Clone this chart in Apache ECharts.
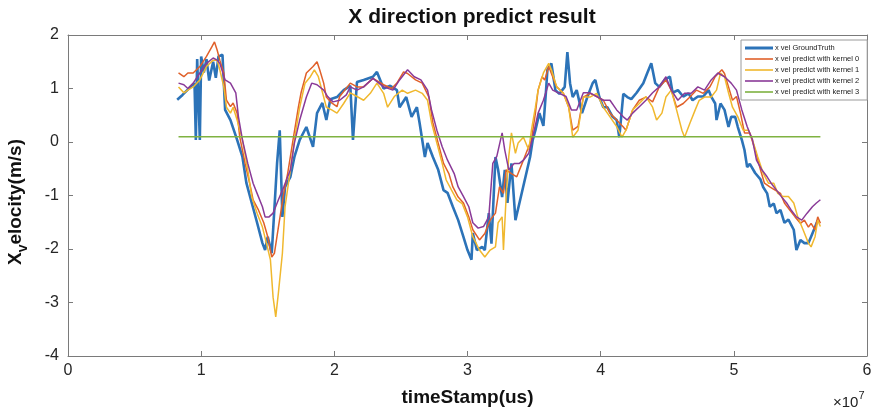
<!DOCTYPE html>
<html><head><meta charset="utf-8">
<script src="https://cdn.jsdelivr.net/npm/echarts@6/dist/echarts.min.js"></script>
<style>html,body{margin:0;padding:0;background:#fff}#c{width:879px;height:415px}</style>
</head><body><div id="c"></div>
<script>
// x in units of 1e7 us, y in m/s
const seriesNames = ['x vel GroundTruth','x vel predict with kernel 0','x vel predict with kernel 1','x vel predict with kernel 2','x vel predict with kernel 3'];
const xTicks = [0,1,2,3,4,5,6];
const yTicks = [-4,-3,-2,-1,0,1,2];

const groundTruth = [[0.82,0.79],[0.86,0.88],[0.92,1.03],[0.95,1.1],[0.96,0.04],[0.97,1.55],[0.99,0.04],[1.0,1.6],[1.02,1.3],[1.04,1.55],[1.06,1.15],[1.09,1.5],[1.11,1.2],[1.13,1.6],[1.16,1.63],[1.18,0.6],[1.22,0.41],[1.27,0.04],[1.31,-0.28],[1.34,-0.77],[1.38,-1.14],[1.42,-1.51],[1.46,-1.89],[1.48,-2.02],[1.5,-1.77],[1.53,-2.08],[1.57,-0.4],[1.59,0.22],[1.61,-1.4],[1.63,-0.84],[1.67,-0.65],[1.7,-0.28],[1.74,0.04],[1.79,0.28],[1.84,-0.09],[1.87,0.54],[1.91,0.73],[1.94,0.41],[1.97,0.8],[2.02,0.84],[2.07,0.97],[2.12,1.05],[2.14,0.04],[2.17,1.12],[2.22,1.16],[2.29,1.22],[2.32,1.31],[2.37,1.0],[2.42,1.05],[2.47,0.97],[2.49,0.65],[2.54,0.84],[2.58,0.47],[2.62,0.65],[2.64,0.36],[2.68,-0.28],[2.7,-0.02],[2.74,-0.28],[2.78,-0.52],[2.82,-0.9],[2.85,-0.95],[2.89,-1.21],[2.93,-1.46],[2.97,-1.78],[3.0,-2.02],[3.03,-2.2],[3.04,-1.7],[3.07,-2.02],[3.11,-1.96],[3.13,-2.02],[3.16,-1.33],[3.18,-1.9],[3.21,-0.28],[3.23,-0.52],[3.26,-1.03],[3.28,-0.52],[3.3,-1.14],[3.33,-0.4],[3.36,-1.46],[3.39,-1.14],[3.43,-0.71],[3.47,-0.28],[3.49,0.04],[3.51,0.22],[3.54,0.54],[3.57,0.3],[3.59,0.97],[3.6,1.35],[3.63,1.47],[3.66,0.97],[3.69,0.9],[3.73,1.03],[3.75,1.68],[3.77,1.1],[3.79,0.84],[3.82,0.97],[3.86,0.54],[3.9,0.84],[3.94,1.1],[3.96,1.16],[3.99,0.84],[4.02,0.65],[4.05,0.65],[4.09,0.47],[4.12,0.41],[4.14,0.09],[4.17,0.9],[4.2,0.84],[4.23,0.8],[4.27,0.92],[4.32,1.1],[4.35,1.29],[4.38,1.47],[4.41,1.1],[4.44,1.03],[4.48,1.16],[4.52,1.22],[4.54,0.92],[4.58,0.97],[4.62,0.85],[4.66,0.91],[4.69,0.78],[4.73,0.85],[4.77,0.85],[4.81,0.97],[4.83,0.85],[4.86,0.72],[4.87,0.41],[4.9,0.72],[4.93,0.6],[4.96,0.28],[4.98,0.47],[5.01,0.47],[5.03,0.28],[5.06,0.04],[5.08,-0.15],[5.1,-0.47],[5.12,-0.41],[5.16,-0.58],[5.2,-0.7],[5.22,-0.84],[5.25,-0.96],[5.27,-1.21],[5.3,-1.15],[5.32,-1.33],[5.35,-1.27],[5.38,-1.51],[5.41,-1.45],[5.45,-1.64],[5.47,-2.02],[5.5,-1.83],[5.53,-1.89],[5.56,-1.89],[5.58,-1.77],[5.61,-1.59],[5.63,-1.46]];

const kernel0 = [[0.83,1.29],[0.87,1.22],[0.9,1.29],[0.94,1.29],[0.99,1.41],[1.04,1.6],[1.08,1.78],[1.1,1.87],[1.12,1.72],[1.14,1.53],[1.17,1.29],[1.19,0.78],[1.22,0.66],[1.24,0.73],[1.27,0.54],[1.29,0.09],[1.33,-0.4],[1.37,-0.84],[1.39,-1.08],[1.43,-1.27],[1.47,-1.51],[1.5,-1.77],[1.53,-2.15],[1.55,-2.08],[1.58,-1.59],[1.62,-0.96],[1.65,-0.58],[1.69,0.04],[1.73,0.65],[1.75,0.92],[1.79,1.29],[1.84,1.41],[1.87,1.5],[1.89,1.35],[1.92,1.1],[1.94,0.84],[1.98,0.73],[2.02,0.66],[2.04,0.85],[2.12,1.1],[2.17,1.03],[2.22,1.03],[2.29,1.19],[2.37,1.07],[2.43,1.0],[2.47,1.1],[2.52,1.31],[2.55,1.28],[2.61,1.16],[2.66,1.1],[2.71,0.84],[2.74,0.36],[2.78,-0.02],[2.82,-0.4],[2.86,-0.59],[2.89,-0.84],[2.93,-1.03],[2.97,-1.14],[3.01,-1.4],[3.04,-1.64],[3.09,-1.83],[3.13,-1.71],[3.17,-1.46],[3.21,-1.33],[3.24,-0.84],[3.27,-0.96],[3.29,-0.52],[3.33,-0.59],[3.37,-0.65],[3.41,-0.4],[3.44,-0.21],[3.48,0.04],[3.51,0.54],[3.53,0.97],[3.56,1.22],[3.58,1.16],[3.61,1.41],[3.63,1.28],[3.67,1.03],[3.72,0.91],[3.76,0.65],[3.79,0.22],[3.83,0.29],[3.87,0.84],[3.92,0.91],[3.97,0.85],[4.02,0.78],[4.07,0.54],[4.12,0.41],[4.17,0.28],[4.19,0.22],[4.24,0.6],[4.29,0.78],[4.34,0.84],[4.39,0.75],[4.44,1.03],[4.49,1.16],[4.53,0.97],[4.57,0.65],[4.62,0.72],[4.67,0.84],[4.72,0.97],[4.77,0.91],[4.82,1.03],[4.86,1.22],[4.91,1.35],[4.93,1.28],[4.96,1.03],[4.99,0.78],[5.02,0.85],[5.05,0.54],[5.08,0.17],[5.12,0.17],[5.16,-0.15],[5.2,-0.52],[5.23,-0.77],[5.27,-0.84],[5.31,-0.9],[5.35,-0.96],[5.38,-1.14],[5.42,-1.27],[5.46,-1.4],[5.5,-1.52],[5.53,-1.46],[5.56,-1.59],[5.58,-1.52],[5.61,-1.64],[5.63,-1.4],[5.65,-1.52]];

const kernel1 = [[0.83,1.03],[0.87,0.92],[0.9,0.97],[0.94,1.03],[0.99,1.16],[1.04,1.41],[1.09,1.53],[1.12,1.53],[1.14,1.35],[1.17,1.03],[1.19,0.65],[1.22,0.54],[1.24,0.65],[1.27,0.41],[1.31,0.04],[1.35,-0.52],[1.38,-1.03],[1.42,-1.33],[1.46,-1.59],[1.49,-1.89],[1.52,-2.2],[1.54,-2.9],[1.56,-3.27],[1.58,-2.82],[1.61,-2.08],[1.63,-1.21],[1.67,-0.52],[1.7,0.04],[1.74,0.65],[1.78,1.1],[1.82,1.22],[1.85,1.35],[1.88,1.22],[1.92,0.84],[1.94,0.65],[1.98,0.6],[2.02,0.54],[2.07,0.72],[2.12,0.92],[2.17,0.85],[2.22,0.78],[2.27,0.91],[2.32,1.1],[2.37,0.91],[2.4,0.65],[2.45,0.85],[2.51,0.97],[2.55,0.91],[2.61,0.97],[2.66,0.91],[2.7,0.78],[2.73,0.36],[2.77,-0.02],[2.81,-0.4],[2.84,-0.71],[2.88,-0.9],[2.92,-1.08],[2.96,-1.15],[3.0,-1.4],[3.04,-1.77],[3.09,-2.02],[3.13,-2.15],[3.17,-2.02],[3.21,-1.96],[3.23,-1.51],[3.26,-1.4],[3.27,-2.02],[3.29,-1.03],[3.31,-0.27],[3.33,0.17],[3.36,-0.21],[3.38,-0.02],[3.42,0.09],[3.46,-0.15],[3.48,0.22],[3.51,0.65],[3.53,0.97],[3.57,1.29],[3.61,1.47],[3.63,1.35],[3.67,1.03],[3.72,0.91],[3.76,0.65],[3.79,0.09],[3.83,0.22],[3.87,0.84],[3.92,0.84],[3.97,0.91],[4.02,0.65],[4.07,0.47],[4.12,0.29],[4.16,0.09],[4.19,0.22],[4.24,0.6],[4.29,0.72],[4.34,0.85],[4.39,0.65],[4.42,0.41],[4.46,0.54],[4.49,0.84],[4.53,0.97],[4.57,0.6],[4.61,0.22],[4.63,0.09],[4.67,0.35],[4.71,0.6],[4.74,0.78],[4.78,0.84],[4.83,0.84],[4.87,0.97],[4.9,1.29],[4.93,1.22],[4.96,0.92],[4.99,0.65],[5.03,0.47],[5.07,0.22],[5.11,0.22],[5.14,0.04],[5.18,-0.28],[5.22,-0.58],[5.26,-0.77],[5.3,-0.77],[5.33,-0.96],[5.37,-1.02],[5.41,-1.02],[5.45,-1.14],[5.48,-1.4],[5.52,-1.64],[5.56,-1.89],[5.58,-1.96],[5.61,-1.77],[5.63,-1.46],[5.65,-1.58]];

const kernel2 = [[0.83,1.1],[0.87,1.07],[0.9,1.0],[0.94,1.1],[0.99,1.29],[1.04,1.47],[1.09,1.57],[1.12,1.53],[1.14,1.47],[1.18,1.16],[1.22,1.1],[1.26,0.92],[1.28,0.47],[1.31,0.04],[1.35,-0.4],[1.39,-0.77],[1.42,-0.96],[1.46,-1.21],[1.48,-1.4],[1.51,-1.4],[1.54,-1.33],[1.58,-1.08],[1.62,-0.84],[1.67,-0.52],[1.7,-0.02],[1.74,0.41],[1.79,0.84],[1.83,1.1],[1.87,1.07],[1.92,0.97],[1.95,0.85],[1.99,0.75],[2.04,0.78],[2.09,0.88],[2.12,1.03],[2.17,0.97],[2.22,1.03],[2.29,1.19],[2.37,1.03],[2.44,0.97],[2.49,1.16],[2.55,1.35],[2.6,1.22],[2.65,1.16],[2.7,0.97],[2.73,0.6],[2.77,0.22],[2.81,-0.09],[2.85,-0.34],[2.9,-0.59],[2.93,-0.84],[2.97,-1.02],[3.01,-1.21],[3.04,-1.51],[3.08,-1.61],[3.12,-1.58],[3.16,-1.4],[3.19,-0.4],[3.22,-0.27],[3.26,0.17],[3.28,-0.15],[3.31,-0.52],[3.35,-0.4],[3.39,-0.4],[3.42,-0.34],[3.46,-0.21],[3.49,0.09],[3.53,0.54],[3.57,0.78],[3.61,1.1],[3.64,0.97],[3.69,0.91],[3.74,0.85],[3.78,0.6],[3.82,0.6],[3.87,0.92],[3.92,0.92],[3.97,0.85],[4.02,0.78],[4.07,0.78],[4.12,0.6],[4.17,0.47],[4.2,0.41],[4.24,0.54],[4.29,0.66],[4.34,0.78],[4.39,0.92],[4.44,1.03],[4.49,1.22],[4.53,0.97],[4.58,0.78],[4.63,0.91],[4.68,0.91],[4.73,1.03],[4.78,0.97],[4.83,1.16],[4.88,1.29],[4.93,1.22],[4.98,1.1],[5.02,0.97],[5.06,0.6],[5.1,0.29],[5.14,0.04],[5.17,-0.34],[5.21,-0.52],[5.25,-0.65],[5.28,-0.77],[5.32,-0.9],[5.36,-1.03],[5.4,-1.15],[5.43,-1.27],[5.47,-1.4],[5.51,-1.46],[5.55,-1.33],[5.59,-1.21],[5.62,-1.14],[5.65,-1.08]];

const kernel3 = [[0.83,0.1],[5.65,0.1]];

const colors = ['#2c73b8','#e0602a','#f0b82e','#8a3a98','#7fb241'];
const widths = [2.6,1.5,1.5,1.5,1.5];
const allData = [groundTruth,kernel0,kernel1,kernel2,kernel3];

const chart = echarts.init(document.getElementById('c'), null, {renderer:'canvas'});
const axisColor = '#7a7a7a';
const txt = '#262626';
const FF = 'Liberation Sans, Arial, sans-serif';
const G = {left:68, right:12, top:35, bottom:59};
const hiddenAxisCommon = {
  axisTick:{show:true, inside:true, length:5, lineStyle:{color:axisColor}},
  axisLabel:{show:false}, splitLine:{show:false}
};
chart.setOption({
  animation:false,
  backgroundColor:'#fff',
  title:{text:'X direction predict result', left:467, textAlign:'center', top:2,
    textStyle:{fontFamily:FF, fontSize:21, fontWeight:'bold', color:'#111'}},
  grid:G,
  legend:{
    data:seriesNames.map((n,i)=>({name:n, icon: i===0 ? 'path://M0,0h28v3h-28z' : 'path://M0,0h28v1.6h-28z'})),
    orient:'vertical', left:741, top:40, itemWidth:28, itemHeight:7, itemGap:3, symbolKeepAspect:true,
    padding:[4,8,4,4], borderColor:'#9a9a9a', borderWidth:1, backgroundColor:'#fff', borderRadius:0,
    textStyle:{fontSize:7.5, color:'#222', fontFamily:FF, padding:[0,0,0,-3]}
  },
  xAxis:[{
    type:'value', min:0, max:6, interval:1, position:'bottom',
    axisLine:{show:true, onZero:false, lineStyle:{color:axisColor, width:1}},
    axisTick:{show:true, inside:true, length:5, lineStyle:{color:axisColor}},
    axisLabel:{color:txt, fontSize:16, margin:7, fontFamily:FF,
      formatter:v=> xTicks.includes(v) ? String(v) : ''},
    splitLine:{show:false},
    name:'timeStamp(us)', nameLocation:'middle', nameGap:32,
    nameTextStyle:{fontSize:19, fontWeight:'bold', color:'#111', fontFamily:FF}
  },{
    type:'value', min:0, max:6, interval:1, position:'top', ...hiddenAxisCommon,
    axisLine:{show:true, onZero:false, lineStyle:{color:axisColor, width:1}}
  }],
  yAxis:[{
    type:'value', min:-4, max:2, interval:1, position:'left',
    axisLine:{show:true, onZero:false, lineStyle:{color:axisColor, width:1}},
    axisTick:{show:true, inside:true, length:5, lineStyle:{color:axisColor}},
    axisLabel:{color:txt, fontSize:16, margin:9, fontFamily:FF,
      formatter:v=> yTicks.includes(v) ? String(v) : ''},
    splitLine:{show:false}
  },{
    type:'value', min:-4, max:2, interval:1, position:'right', ...hiddenAxisCommon,
    axisLine:{show:true, onZero:false, lineStyle:{color:axisColor, width:1}}
  }],
  series: allData.map((d,i)=>({
    name:seriesNames[i], type:'line', data:d, xAxisIndex:0, yAxisIndex:0,
    showSymbol:false, symbol:'none', smooth:false,
    lineStyle:{color:colors[i], width:widths[i]}, itemStyle:{color:colors[i]},
    z:2+i
  })),
  graphic:[
    {type:'text', left:6, top:139, rotation:Math.PI/2, originX:0, originY:0,
     style:{text:'{a|X}{s|v}{a|elocity(m/s)}', x:0, y:0,
       rich:{a:{fontSize:19, fontWeight:'bold', fill:'#111', fontFamily:FF, lineHeight:30, verticalAlign:'middle'},
             s:{fontSize:14, fontWeight:'bold', fill:'#111', fontFamily:FF, lineHeight:14, verticalAlign:'bottom'}}}},
    {type:'text', left:833, top:390,
     style:{text:'{a|×10}{b|7}', rich:{a:{fontSize:15, fill:'#222', fontFamily:FF, padding:[7,0,0,0]},
       b:{fontSize:11, fill:'#222', fontFamily:FF, padding:[0,0,8,0]}}}}
  ]
});
</script></body></html>
